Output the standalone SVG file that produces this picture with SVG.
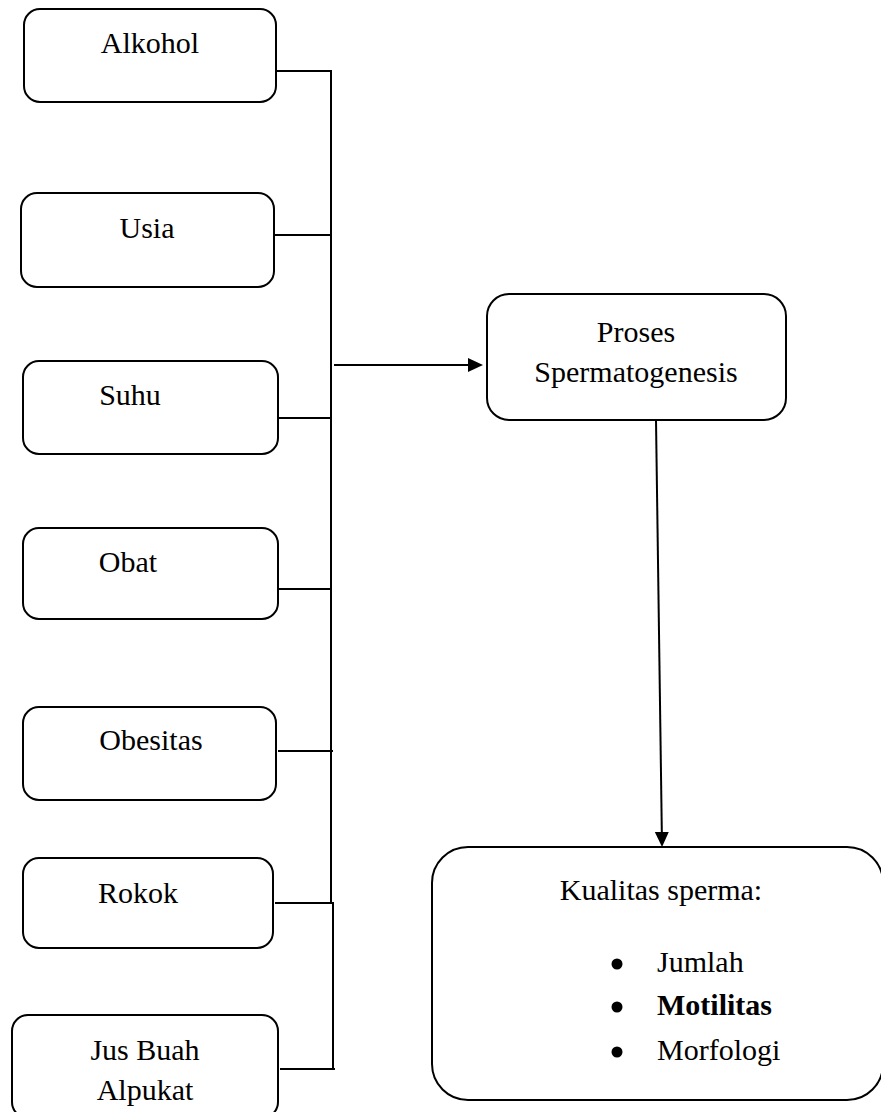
<svg xmlns="http://www.w3.org/2000/svg" width="881" height="1112" viewBox="0 0 881 1112">
<defs>
<style>
.box{fill:#fff;stroke:#000;stroke-width:2}
.ln{stroke:#000;stroke-width:2;fill:none}
.t{font-size:30px;fill:#000}
.m{text-anchor:middle}
.b{font-weight:bold}
</style>
<marker id="ah" markerUnits="userSpaceOnUse" markerWidth="16" markerHeight="16" refX="13" refY="7" orient="auto">
<path d="M0,0 L15,7 L0,14 Z" fill="#000"/>
</marker>
</defs>
<rect width="881" height="1112" fill="#fff"/>
<g id="connectors">
<line class="ln" x1="277" y1="71" x2="332" y2="71"/>
<line class="ln" x1="275" y1="235" x2="332" y2="235"/>
<line class="ln" x1="278" y1="418" x2="331" y2="418"/>
<line class="ln" x1="278" y1="589" x2="331" y2="589"/>
<line class="ln" x1="278" y1="751" x2="333" y2="751"/>
<line class="ln" x1="275" y1="903" x2="333" y2="903"/>
<line class="ln" x1="280" y1="1069" x2="335" y2="1069"/>
<line class="ln" x1="331" y1="70" x2="331" y2="903"/>
<line class="ln" x1="333" y1="902" x2="333" y2="1069"/>
<line class="ln" x1="334" y1="365" x2="481" y2="365" marker-end="url(#ah)"/>
<line class="ln" x1="656" y1="420" x2="662" y2="845" marker-end="url(#ah)"/>
</g>
<g font-family="'Liberation Serif', 'Times New Roman', 'DejaVu Serif', serif">
<g id="alkohol">
<rect class="box" x="24" y="9" width="252" height="93" rx="16"/>
<text class="t m" x="150" y="53">Alkohol</text>
</g>
<g id="usia">
<rect class="box" x="21" y="193" width="253" height="94" rx="16"/>
<text class="t m" x="147" y="238">Usia</text>
</g>
<g id="suhu">
<rect class="box" x="23" y="361" width="255" height="93" rx="16"/>
<text class="t m" x="130" y="405">Suhu</text>
</g>
<g id="obat">
<rect class="box" x="23" y="528" width="255" height="91" rx="16"/>
<text class="t m" x="128" y="572">Obat</text>
</g>
<g id="obesitas">
<rect class="box" x="23" y="707" width="253" height="93" rx="16"/>
<text class="t m" x="151" y="750">Obesitas</text>
</g>
<g id="rokok">
<rect class="box" x="23" y="858" width="250" height="90" rx="16"/>
<text class="t m" x="138" y="903">Rokok</text>
</g>
<g id="jus">
<rect class="box" x="12" y="1015" width="266" height="103" rx="16"/>
<text class="t m" x="145" y="1060">Jus Buah</text>
<text class="t m" x="145" y="1100">Alpukat</text>
</g>
<g id="proses">
<rect class="box" x="487" y="294" width="299" height="126" rx="22"/>
<text class="t m" x="636" y="342">Proses</text>
<text class="t m" x="636" y="382">Spermatogenesis</text>
</g>
<g id="kualitas">
<rect class="box" x="432" y="847" width="451" height="253" rx="36"/>
<text class="t m" x="661" y="900">Kualitas sperma:</text>
<circle cx="617" cy="964" r="5.5" fill="#000"/>
<text class="t" x="657" y="972">Jumlah</text>
<circle cx="617" cy="1007" r="5.5" fill="#000"/>
<text class="t b" x="657" y="1015">Motilitas</text>
<circle cx="617" cy="1052" r="5.5" fill="#000"/>
<text class="t" x="657" y="1060">Morfologi</text>
</g>
</g>
</svg>
